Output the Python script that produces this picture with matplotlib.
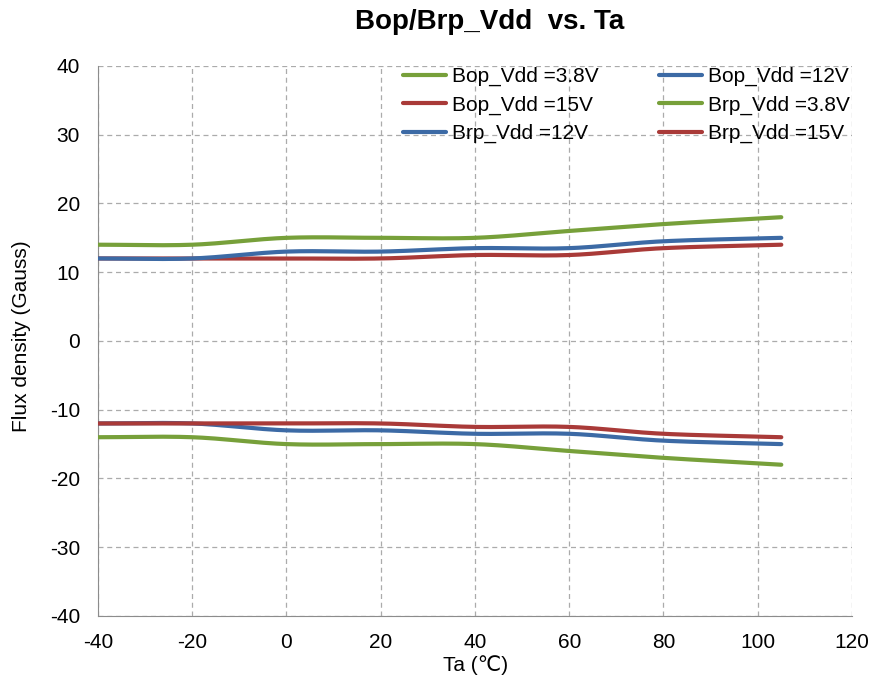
import numpy as np
import matplotlib

matplotlib.use('Agg')
import matplotlib.pyplot as plt

plt.rcParams['font.family'] = ['Liberation Sans', 'DejaVu Sans']
plt.rcParams['axes.unicode_minus'] = False

# temperature points (degC)
ta = [-40, -20, 0, 20, 40, 60, 80, 105]

bop_38 = [14, 14, 15, 15, 15, 16, 17, 18]
bop_12 = [12, 12, 13, 13, 13.5, 13.5, 14.5, 15]
bop_15 = [12, 12, 12, 12, 12.5, 12.5, 13.5, 14]
brp_38 = [-14, -14, -15, -15, -15, -16, -17, -18]
brp_12 = [-12, -12, -13, -13, -13.5, -13.5, -14.5, -15]
brp_15 = [-12, -12, -12, -12, -12.5, -12.5, -13.5, -14]

GREEN = '#77A03A'
BLUE = '#3C6AA5'
RED = '#A93A38'


def smooth(x, y, n=30):
    """Catmull-Rom curve through the points, like Excel's smoothed line."""
    x = np.asarray(x, float)
    y = np.asarray(y, float)
    px = np.concatenate([[2 * x[0] - x[1]], x, [2 * x[-1] - x[-2]]])
    py = np.concatenate([[2 * y[0] - y[1]], y, [2 * y[-1] - y[-2]]])
    t = np.linspace(0, 1, n)
    xs, ys = [], []
    for i in range(1, len(px) - 2):
        for p, out in ((px, xs), (py, ys)):
            p0, p1, p2, p3 = p[i - 1], p[i], p[i + 1], p[i + 2]
            out.extend(0.5 * (2 * p1 + (-p0 + p2) * t
                              + (2 * p0 - 5 * p1 + 4 * p2 - p3) * t ** 2
                              + (-p0 + 3 * p1 - 3 * p2 + p3) * t ** 3))
    return xs, ys


fig = plt.figure(figsize=(8.74, 6.82), dpi=100)
ax = fig.add_axes([0.1121, 0.0968, 0.8627, 0.8065])

# order gives the row-wise legend layout of the original
series = [
    ('Bop_Vdd =3.8V', bop_38, GREEN),
    ('Bop_Vdd =15V', bop_15, RED),
    ('Brp_Vdd =12V', brp_12, BLUE),
    ('Bop_Vdd =12V', bop_12, BLUE),
    ('Brp_Vdd =3.8V', brp_38, GREEN),
    ('Brp_Vdd =15V', brp_15, RED),
]
for label, vals, color in series:
    xs, ys = smooth(ta, vals)
    ax.plot(xs, ys, color=color, lw=3, solid_capstyle='round', label=label, zorder=3)

ax.set_xlim(-40, 120)
ax.set_ylim(-40, 40)
ax.set_xticks(range(-40, 121, 20))
ax.set_yticks(range(-40, 41, 10))
ax.grid(True, color='#ABABAB', linestyle=(0, (4, 3)), lw=0.9)
for s in ('top', 'right'):
    ax.spines[s].set_visible(False)
for s in ('left', 'bottom'):
    ax.spines[s].set_color('#8C8C8C')
ax.tick_params(length=0, labelsize=15)
ax.tick_params(axis='x', pad=12)
ax.tick_params(axis='y', pad=13)

fig.text(490 / 874, 1 - 22 / 682, 'Bop/Brp_Vdd  vs. Ta', fontsize=20,
         fontweight='bold', ha='center', va='center')
fig.text(476 / 874, 1 - 665 / 682, 'Ta (℃)', fontsize=15, ha='center', va='center')
fig.text(22 / 874, 1 - 336 / 682, 'Flux density (Gauss)', fontsize=15,
         rotation=90, ha='center', va='center')

ax.legend(ncol=2, frameon=False, fontsize=15, loc='upper left',
          bbox_to_anchor=(403 / 874, 1 - 67 / 682), bbox_transform=fig.transFigure,
          handlelength=2.05, handletextpad=0.3, columnspacing=2.9,
          labelspacing=0.44, borderpad=0, borderaxespad=0)

fig.savefig('out.png', dpi=100)
